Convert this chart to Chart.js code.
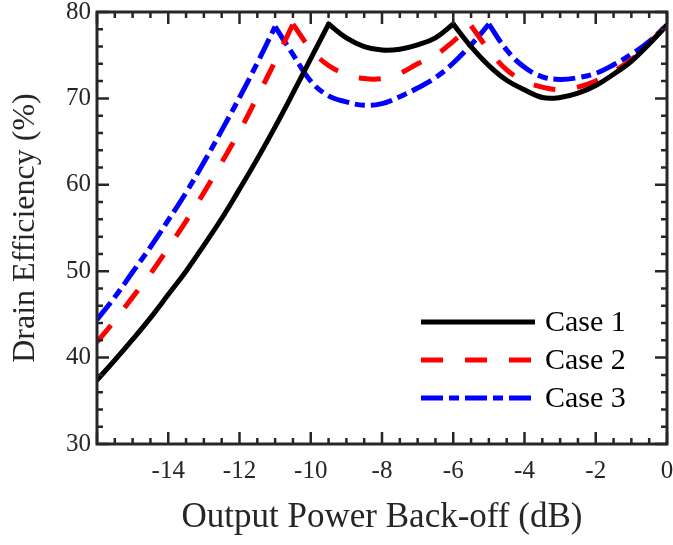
<!DOCTYPE html>
<html>
<head>
<title>Drain Efficiency vs Back-off</title>
<script src="https://cdn.jsdelivr.net/npm/chart.js"></script>
<style>
  body { margin: 0; background: #fff; }
</style>
</head>
<body>
<canvas id="effChart" width="673" height="545"></canvas>

<script>
// output power back-off (dB), 0.5 dB steps
const backoff = [-16, -15.5, -15, -14.5, -14, -13.5, -13, -12.5, -12, -11.5, -11, -10.5, -10,
  -9.5, -9, -8.5, -8, -7.5, -7, -6.5, -6, -5.5, -5, -4.5, -4, -3.5, -3, -2.5, -2, -1.5, -1, -0.5, 0];

// drain efficiency (%)
const case1 = [37.4, 39.7, 42.1, 44.6, 47.3, 50.0, 53.0, 56.1, 59.5, 63.0, 66.7, 70.6, 74.6,
  78.6, 77.0, 76.0, 75.6, 75.7, 76.2, 77.0, 78.6, 76.0, 73.8, 72.1, 71.0, 70.1, 70.1, 70.6, 71.5, 72.8, 74.3, 76.3, 78.5];
const case2 = [41.8, 44.3, 47.0, 49.7, 52.7, 55.8, 59.1, 62.6, 66.2, 70.2, 74.3, 78.6, 75.7,
  73.8, 72.8, 72.3, 72.3, 72.9, 74.0, 75.0, 76.6, 78.4, 75.6, 73.3, 72.0, 71.3, 71.0, 71.3, 72.0, 73.1, 74.5, 76.4, 78.5];
const case3 = [44.4, 47.0, 49.9, 52.8, 55.9, 59.1, 62.6, 66.3, 70.1, 74.1, 78.3, 75.1, 72.0,
  70.3, 69.6, 69.2, 69.4, 70.2, 71.2, 72.4, 74.1, 76.2, 78.6, 75.6, 73.6, 72.5, 72.2, 72.4, 72.9, 73.9, 75.1, 76.6, 78.5];

// back-off where each case peaks (sharp corners in the curve)
const case1Peaks = [-9.5, -6];
const case2Peaks = [-10.5, -5.5];
const case3Peaks = [-11, -5];

const caseLabels = ['Case 1', 'Case 2', 'Case 3'];
const xTickLabels = ['-14', '-12', '-10', '-8', '-6', '-4', '-2', '0'];

const axisColor = '#262626';
const serif = "'Liberation Serif', 'Times New Roman', serif";

const styles = [
  { borderColor: '#000000', borderWidth: 5, borderDash: [], borderCapStyle: 'round' },
  { borderColor: '#ff0000', borderWidth: 5, borderDash: [22, 22], borderCapStyle: 'butt' },
  { borderColor: '#0000ff', borderWidth: 5, borderDash: [22, 6, 10, 6], borderCapStyle: 'butt' }
];

// split a curve at its peaks so each smooth stretch can be drawn with a spline
function pieces(ys, peaks) {
  const cuts = [0, ...peaks.map(p => backoff.indexOf(p)), backoff.length - 1];
  const out = [];
  for (let k = 0; k < cuts.length - 1; k++) {
    const pts = [];
    for (let i = cuts[k]; i <= cuts[k + 1]; i++) pts.push({ x: backoff[i], y: ys[i] });
    out.push(pts);
  }
  return out;
}

const datasets = [];
[[case1, case1Peaks], [case2, case2Peaks], [case3, case3Peaks]].forEach(([ys, peaks], c) => {
  pieces(ys, peaks).forEach((pts) => {
    datasets.push(Object.assign({ label: caseLabels[c], data: pts }, styles[c]));
  });
});

// box with inward ticks on all four sides, plus legend inside the plot
const boxPlugin = {
  id: 'boxPlugin',
  afterDatasetsDraw(chart) {
    const { ctx, chartArea: a, scales: { x, y } } = chart;
    ctx.save();
    ctx.strokeStyle = axisColor;
    ctx.lineWidth = 2.5;
    ctx.beginPath();
    for (let v = -16; v <= 0.001; v += 0.5) {
      const px = x.getPixelForValue(v);
      const len = Math.abs(v % 2) < 0.001 ? 12 : 6;
      ctx.moveTo(px, a.bottom); ctx.lineTo(px, a.bottom - len);
      ctx.moveTo(px, a.top); ctx.lineTo(px, a.top + len);
    }
    for (let v = 30; v <= 80; v += 2) {
      const py = y.getPixelForValue(v);
      const len = v % 10 === 0 ? 12 : 6;
      ctx.moveTo(a.left, py); ctx.lineTo(a.left + len, py);
      ctx.moveTo(a.right, py); ctx.lineTo(a.right - len, py);
    }
    ctx.stroke();
    ctx.lineWidth = 3;
    ctx.strokeRect(a.left, a.top, a.right - a.left, a.bottom - a.top);

    // legend
    ctx.font = '30px ' + serif;
    ctx.textBaseline = 'middle';
    ctx.fillStyle = '#000';
    styles.forEach((st, i) => {
      const ly = 322 + i * 38;
      ctx.strokeStyle = st.borderColor;
      ctx.lineWidth = st.borderWidth;
      ctx.lineCap = 'butt';
      ctx.setLineDash(st.borderDash);
      ctx.beginPath();
      ctx.moveTo(421, ly);
      ctx.lineTo(535, ly);
      ctx.stroke();
      ctx.setLineDash([]);
      ctx.fillText(caseLabels[i], 545, ly + 1);
    });
    ctx.restore();
  }
};

new Chart(document.getElementById('effChart').getContext('2d'), {
  type: 'line',
  data: { datasets: datasets },
  options: {
    responsive: false,
    animation: false,
    devicePixelRatio: 1,
    layout: { padding: { top: 12, right: 6, left: 0, bottom: 0 } },
    elements: {
      point: { radius: 0 },
      line: { tension: 0.4, borderJoinStyle: 'round', fill: false }
    },
    plugins: {
      legend: { display: false },
      tooltip: { enabled: false }
    },
    scales: {
      x: {
        type: 'linear',
        min: -16,
        max: 0,
        grid: { display: false, drawTicks: false },
        border: { display: false },
        ticks: {
          stepSize: 2,
          padding: 12,
          color: axisColor,
          font: { family: serif, size: 25 },
          callback: (v) => xTickLabels.includes(String(v)) ? String(v) : ''
        },
        title: {
          display: true,
          text: 'Output Power Back-off (dB)',
          color: axisColor,
          font: { family: serif, size: 35 },
          padding: { top: 0, bottom: 6 }
        },
        afterFit: (s) => { s.height = 101; s.paddingLeft = 0; s.paddingRight = 0; }
      },
      y: {
        min: 30,
        max: 80,
        grid: { display: false, drawTicks: false },
        border: { display: false },
        ticks: {
          stepSize: 10,
          padding: 6,
          color: axisColor,
          font: { family: serif, size: 25 }
        },
        title: {
          display: true,
          text: 'Drain Efficiency (%)',
          color: axisColor,
          font: { family: serif, size: 32 },
          padding: { top: 6, bottom: 0 }
        },
        afterFit: (s) => { s.width = 97; s.paddingTop = 0; s.paddingBottom = 0; }
      }
    }
  },
  plugins: [boxPlugin]
});
</script>
</body>
</html>
